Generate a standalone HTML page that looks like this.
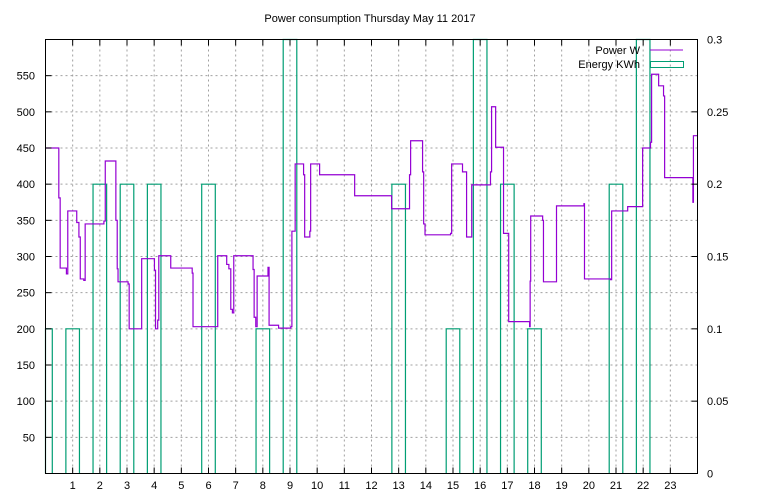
<!DOCTYPE html>
<html><head><meta charset="utf-8"><style>
html,body{margin:0;padding:0;background:#fff;}
svg{display:block;font-family:"Liberation Sans","DejaVu Sans",sans-serif;font-size:11px;}
</style></head><body>
<svg id="chart" width="768" height="500" viewBox="0 0 768 500" xmlns="http://www.w3.org/2000/svg">
<rect width="768" height="500" fill="#fff"/>
<text x="370" y="22" text-anchor="middle">Power consumption Thursday May 11 2017</text>
<g id="grid"></g>
<g id="energy"></g>
<g id="power"></g>
<g id="axes"></g>
<g>
<text x="640" y="54" text-anchor="end">Power W</text>
<line x1="650" y1="50" x2="683" y2="50" stroke="#9400d3" stroke-width="1"/>
<text x="640" y="68" text-anchor="end">Energy KWh</text>
<rect x="650.5" y="61.5" width="33" height="6" fill="none" stroke="#009e73" stroke-width="1"/>
</g>
</svg>
<script>
const hours = [0,1,2,3,4,5,6,7,8,9,10,11,12,13,14,15,16,17,18,19,20,21,22,23];
const energy = [0.1,0.1,0.2,0.2,0.2,0,0.2,0,0.1,0.3,0,0,0,0.2,0,0.1,0.3,0.2,0.1,0,0,0.2,0.3,0];
const powerTimes = [0,0.49,0.54,0.77,0.82,1.15,1.23,1.28,1.41,1.46,2.15,2.20,2.59,2.64,2.67,3.04,3.08,3.54,4.01,4.05,4.13,4.17,4.61,5.40,5.43,6.34,6.67,6.75,6.82,6.88,6.93,7.64,7.68,7.74,7.79,8.19,8.23,8.58,9.03,9.07,9.19,9.50,9.54,9.73,9.76,10.09,11.38,12.74,13.40,13.44,13.88,13.92,13.97,14.91,14.95,15.35,15.50,15.69,16.38,16.42,16.57,16.86,17.05,17.82,17.84,17.86,18.30,18.33,18.81,19.82,19.84,20.80,20.84,21.43,21.98,22.27,22.31,22.57,22.75,22.79,23.83,23.85];
const powerValues = [450,381,284,276,363,347,327,269,267,345,349,432,350,283,265,262,200,297,281,200,212,301,284,277,203,301,289,283,227,222,301,282,216,203,273,285,205,201,203,335,428,413,327,335,428,413,384,366,413,460,417,345,330,332,428,417,327,399,417,507,451,332,210,203,266,356,350,265,370,373,269,268,363,369,450,458,552,536,522,409,375,467];
const leftTicks = [50,100,150,200,250,300,350,400,450,500,550];
const rightTicks = ["0","0.05","0.1","0.15","0.2","0.25","0.3"];
const xTickLabels = ["1","2","3","4","5","6","7","8","9","10","11","12","13","14","15","16","17","18","19","20","21","22","23"];

const X0=45.5, X1=697.5, Y0=473.5, Y1=39.5;
const xs = h => X0 + h*(X1-X0)/24;
const yl = v => Y0 - v*(Y0-Y1)/600;
const yr = v => Y0 - v*(Y0-Y1)/0.3;
const NS="http://www.w3.org/2000/svg";
function mk(tag, parent){const e=document.createElementNS(NS,tag);document.getElementById(parent).appendChild(e);return e;}

// grid
leftTicks.forEach(v=>{
  const l=mk('line','grid');
  
  
  l.setAttribute('x1',X0);l.setAttribute('x2',X1);l.setAttribute('y1',yl(v));l.setAttribute('y2',yl(v));
  l.setAttribute('stroke','#a0a0a0');l.setAttribute('stroke-dasharray','2,3');
});
xTickLabels.forEach((s,i)=>{
  const h=i+1;
  const l=mk('line','grid');
  
  
  l.setAttribute('x1',xs(h));l.setAttribute('x2',xs(h));l.setAttribute('y1',Y1);l.setAttribute('y2',Y0);
  l.setAttribute('stroke','#a0a0a0');l.setAttribute('stroke-dasharray','2,3');
});

// energy boxes
const bw=(X1-X0)/24*0.5;
hours.forEach((h,i)=>{
  const v=energy[i]; if(v<=0) return;
  let xa=Math.max(X0,xs(h)-bw/2), xb=Math.min(X1,xs(h)+bw/2);
  const p=mk('path','energy');
  
  
  p.setAttribute('d',`M${xa},${Y0}V${yr(v)}H${xb}V${Y0}`);
  p.setAttribute('fill','none');p.setAttribute('stroke','#009e73');p.setAttribute('stroke-width','1.2');
});

// power step line
let d='';
powerTimes.forEach((t,i)=>{
  const next = i+1<powerTimes.length ? powerTimes[i+1] : 24;
  const y=yl(powerValues[i]);
  d += (i===0?`M${xs(t)},${y}`:`V${y}`) + `H${xs(next)}`;
});
const pl=mk('path','power');


pl.setAttribute('d',d);pl.setAttribute('fill','none');pl.setAttribute('stroke','#9400d3');pl.setAttribute('stroke-width','1.2');

// border
const b=mk('rect','axes');


b.setAttribute('x',X0);b.setAttribute('y',Y1);b.setAttribute('width',X1-X0);b.setAttribute('height',Y0-Y1);
b.setAttribute('fill','none');b.setAttribute('stroke','#000');

leftTicks.forEach(v=>{
  const t=mk('line','axes');
  
  
  t.setAttribute('x1',X0);t.setAttribute('x2',X0+6);t.setAttribute('y1',yl(v));t.setAttribute('y2',yl(v));t.setAttribute('stroke','#000');
  const tx=mk('text','axes');
  
  
  tx.setAttribute('x',35);tx.setAttribute('y',yl(v)+4);tx.setAttribute('text-anchor','end');
  tx.textContent=v;
});
rightTicks.forEach(s=>{
  const v=parseFloat(s);
  const t=mk('line','axes');
  
  
  t.setAttribute('x1',X1-6);t.setAttribute('x2',X1);t.setAttribute('y1',yr(v));t.setAttribute('y2',yr(v));t.setAttribute('stroke','#000');
  const tx=mk('text','axes');
  
  
  tx.setAttribute('x',707);tx.setAttribute('y',yr(v)+4);
  tx.textContent=s;
});
xTickLabels.forEach((s,i)=>{
  const h=i+1;
  [[Y0,Y0-6],[Y1,Y1+6]].forEach(([a,c])=>{
    const t=mk('line','axes');
    
    
    t.setAttribute('x1',xs(h));t.setAttribute('x2',xs(h));t.setAttribute('y1',a);t.setAttribute('y2',c);t.setAttribute('stroke','#000');
  });
  const tx=mk('text','axes');
  
  
  tx.setAttribute('x',xs(h));tx.setAttribute('y',489);tx.setAttribute('text-anchor','middle');
  tx.textContent=s;
});
</script>
</body></html>
